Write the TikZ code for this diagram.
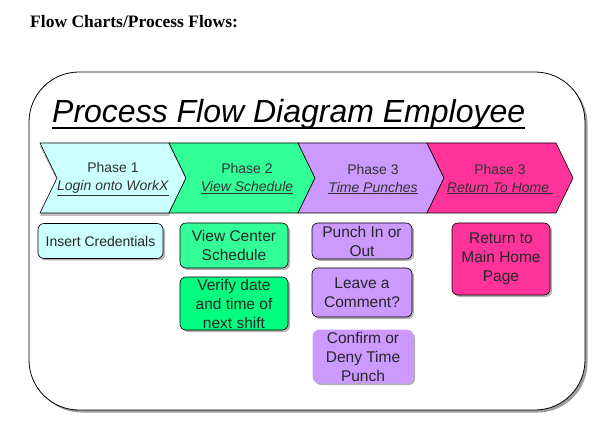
\documentclass[tikz,border=0pt]{standalone}
\usepackage{fontspec}
\setmainfont{Liberation Serif}
\setsansfont{Liberation Sans}
\usetikzlibrary{shadows}

\definecolor{phaseone}{HTML}{CCFFFF}
\definecolor{phasetwo}{HTML}{33FF99}
\definecolor{phasetwob}{HTML}{00FF80}
\definecolor{phasethree}{HTML}{CC99FF}
\definecolor{phasefour}{HTML}{FF3399}

\tikzset{
  chev/.style={draw=black, line width=0.6pt},
  phase/.style={font=\sffamily\fontsize{14}{18}\selectfont, align=center, text=black!80},
  task/.style={draw=black, rounded corners=6pt, inner sep=0pt, line width=0.6pt,
    font=\sffamily\fontsize{15.5}{19}\selectfont, align=center, text=black!85,
    drop shadow={shadow xshift=2pt, shadow yshift=-2pt, fill=black!50, opacity=0.6}},
}

\begin{document}
\begin{tikzpicture}[x=1pt,y=-1pt]
    \useasboundingbox (0,0) rectangle (610,430);

    \node[font=\bfseries\fontsize{17.5}{20}\selectfont, anchor=base west, inner sep=0pt] (head) at (30,28) {Flow Charts/Process Flows:};

    % outer frame
    \draw[rounded corners=50pt, line width=0.8pt, fill=white,
      drop shadow={shadow xshift=2.5pt, shadow yshift=-2.5pt, fill=black!55, opacity=0.7}]
      (29,72) rectangle (585,410);

    \node[font=\sffamily\itshape\fontsize{32}{38}\selectfont, anchor=base west, inner sep=0pt] (title) at (52,123)
      {Process Flow Diagram Employee\ };
    \draw[line width=1.8pt] ([yshift=-5pt]title.base west) -- ([yshift=-5pt]title.base east);

    % phase arrows
    \filldraw[chev, fill=phaseone, drop shadow={shadow xshift=0pt, shadow yshift=-3pt, fill=black!40, opacity=0.6}]
      (40,143) -- ++(129,0) -- ++(17,35) -- ++(-17,35) -- ++(-129,0) -- ++(17,-35) -- cycle;
    \foreach \x/\c in {169/phasetwo, 298/phasethree, 427/phasefour}
      \filldraw[chev, fill=\c] (\x,143) -- ++(129,0) -- ++(17,35) -- ++(-17,35) -- ++(-129,0) -- ++(17,-35) -- cycle;

    \node[phase] (ph1) at (113,179) {Phase 1\\\underline{\textit{Login onto WorkX}}};
    \node[phase] (ph2) at (247,179) {Phase 2\\\underline{\textit{View Schedule}}};
    \node[phase] (ph3) at (373,179) {Phase 3\\\underline{\textit{Time Punches}}};
    \node[phase] (ph4) at (500,179) {Phase 3\\\underline{\textit{Return To Home\ }}};

    % tasks
    \node[task, fill=phaseone, minimum width=125pt, minimum height=35pt,
      font=\sffamily\fontsize{14}{18}\selectfont] (cred) at (100.5,241) {\raisebox{-2pt}{Insert Credentials}};
    \node[task, fill=phasetwo, minimum width=108pt, minimum height=45pt] (view) at (234,245.5) {View Center\\Schedule};
    \node[task, fill=phasetwob, minimum width=108pt, minimum height=53pt] (verify) at (234,303.5) {Verify date\\and time of\\next shift};
    \node[task, fill=phasethree, minimum width=100pt, minimum height=36pt] (punch) at (362,241) {Punch In or\\Out};
    \node[task, fill=phasethree, minimum width=100pt, minimum height=49pt] (comment) at (362,292.5) {Leave a\\Comment?};
    \node[task, fill=phasethree, draw=phasethree, minimum width=100pt, minimum height=53pt] (confirm) at (363,356.5) {Confirm or\\Deny Time\\Punch};
    \node[task, fill=phasefour, minimum width=98pt, minimum height=72pt] (ret) at (501,259) {Return to\\Main Home\\Page};
\end{tikzpicture}
\end{document}
